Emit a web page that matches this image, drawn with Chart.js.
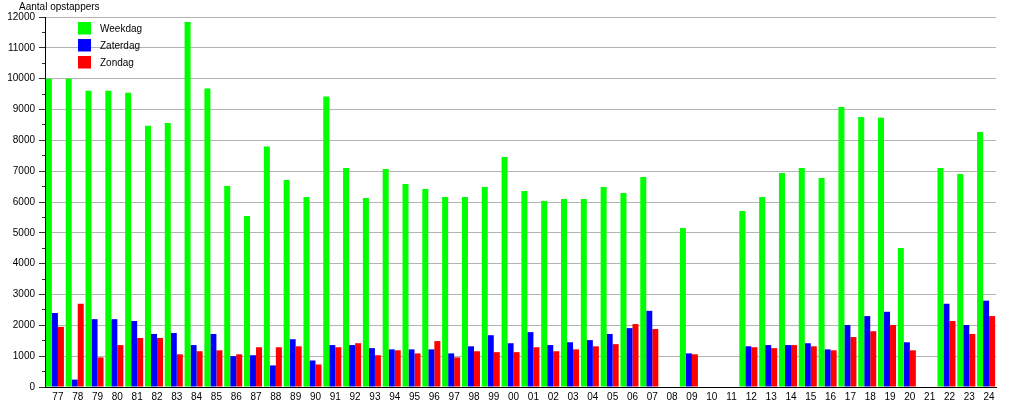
<!DOCTYPE html>
<html>
<head>
<meta charset="utf-8">
<script src="https://cdn.jsdelivr.net/npm/chart.js@4"></script>
<style>
  html, body { margin: 0; padding: 0; background: #fff; }
  #wrap { width: 1015px; height: 400px; }
</style>
</head>
<body>
<div id="wrap"><canvas id="chart"></canvas></div>
<script>
// ========================================
// Aantal opstappers per jaar (77 - 24)
// ========================================

const years = ['77','78','79','80','81','82','83','84','85','86','87','88','89','90','91','92',
               '93','94','95','96','97','98','99','00','01','02','03','04','05','06','07','08',
               '09','10','11','12','13','14','15','16','17','18','19','20','21','22','23','24'];

// null = geen telling dat jaar
const weekdag = [10000,10000,9610,9610,9540,8470,8560,11840,9680,6520,5550,7800,6710,6160,9420,7100,
                 6130,7070,6580,6420,6160,6160,6490,7460,6360,6030,6100,6100,6490,6290,6810,null,
                 5160,null,null,5710,6160,6940,7100,6780,9080,8760,8730,4510,null,7100,6910,8270];

const zaterdag = [2400,240,2200,2200,2140,1720,1750,1360,1720,1000,1030,700,1550,860,1360,1360,
                  1260,1220,1220,1220,1090,1320,1680,1420,1780,1360,1450,1520,1720,1910,2470,null,
                  1090,null,null,1320,1360,1360,1420,1220,2010,2300,2440,1450,null,2700,2010,2800];

const zondag = [1950,2700,960,1360,1590,1590,1060,1160,1190,1060,1290,1290,1320,730,1290,1420,
                1030,1190,1090,1490,960,1160,1130,1130,1290,1160,1220,1320,1390,2040,1880,null,
                1060,null,null,1290,1260,1360,1320,1190,1620,1810,2010,1190,null,2140,1720,2300];

const yTicks = { min: 0, max: 12000, major: 1000, minor: 500 };

const FONT = 'Liberation Sans, Arial, sans-serif';

const isMajor = c => c.tick && c.tick.value % yTicks.major === 0;

/**
 * Title top-left and the legend inside the plot area
 */
const overlayPlugin = {
    id: 'overlay',
    afterDraw(chart) {
        const ctx = chart.ctx;
        ctx.save();
        ctx.font = `10px ${FONT}`;
        ctx.fillStyle = '#000';
        ctx.textBaseline = 'middle';
        ctx.textAlign = 'left';
        ctx.fillText('Aantal opstappers', 19, 7);

        chart.data.datasets.forEach((ds, i) => {
            const y = 22 + i * 17;
            ctx.fillStyle = ds.backgroundColor;
            ctx.fillRect(78, y, 13, 12.5);
            ctx.fillStyle = '#000';
            ctx.fillText(ds.label, 100, y + 7);
        });
        ctx.restore();
    }
};

const ctx = document.getElementById('chart').getContext('2d');

new Chart(ctx, {
    type: 'bar',
    data: {
        labels: years,
        datasets: [
            { label: 'Weekdag',  data: weekdag,  backgroundColor: '#00ff00' },
            { label: 'Zaterdag', data: zaterdag, backgroundColor: '#0000ff' },
            { label: 'Zondag',   data: zondag,   backgroundColor: '#ff0000' }
        ]
    },
    options: {
        responsive: true,
        maintainAspectRatio: false,
        animation: false,
        devicePixelRatio: 1,
        layout: {
            padding: { top: 17, right: 19, bottom: 0, left: 0 }
        },
        datasets: {
            bar: {
                categoryPercentage: 0.91,
                barPercentage: 1.0,
                borderWidth: 0
            }
        },
        plugins: {
            legend: { display: false },
            tooltip: { enabled: false },
            title: { display: false }
        },
        scales: {
            x: {
                offset: true,
                grid: { display: false, drawTicks: false },
                border: { display: true, color: '#000', width: 1 },
                ticks: {
                    autoSkip: false,
                    maxRotation: 0,
                    minRotation: 0,
                    padding: 4,
                    labelOffset: 3,
                    color: '#000',
                    font: { family: FONT, size: 10 }
                },
                afterFit(scale) {
                    scale.height = 13;
                }
            },
            y: {
                min: yTicks.min,
                max: yTicks.max,
                grid: {
                    color: c => isMajor(c) ? '#b4b4b4' : 'rgba(0,0,0,0)',
                    tickColor: '#333',
                    tickLength: 6,
                    // minor ticks: only the half next to the axis
                    tickBorderDash: c => isMajor(c) ? [] : [0, 3, 3, 0],
                    lineWidth: 1
                },
                border: { display: true, color: '#000', width: 1 },
                ticks: {
                    stepSize: yTicks.minor,
                    padding: 4,
                    color: '#000',
                    font: { family: FONT, size: 10 },
                    callback: v => (v % yTicks.major === 0 ? String(v) : '')
                },
                afterFit(scale) {
                    scale.width = 45;
                }
            }
        }
    },
    plugins: [overlayPlugin]
});
</script>
</body>
</html>
